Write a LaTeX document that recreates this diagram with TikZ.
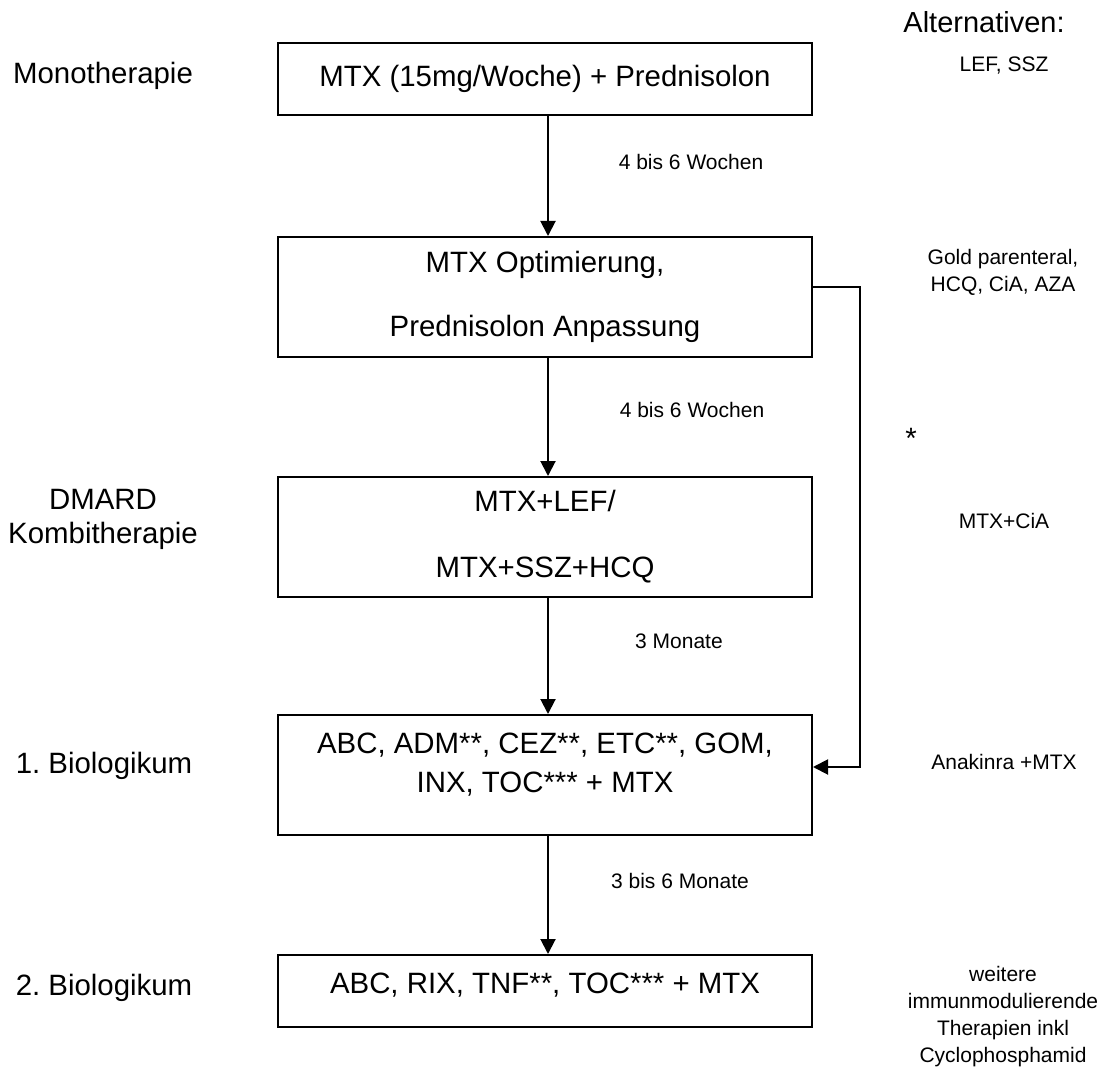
\documentclass[tikz,border=0pt]{standalone}
\usepackage{fontspec}
\setmainfont{Liberation Sans}
\frenchspacing
\usetikzlibrary{arrows.meta}
\tikzset{
	stage/.style={draw, line width=1pt, minimum width=267pt, inner sep=0pt, align=center, font=\fontsize{14.7}{17}\selectfont},
	side/.style={align=center, font=\fontsize{14.7}{17}\selectfont},
	note/.style={align=center, font=\fontsize{10.5}{13.5}\selectfont},
	flow/.style={line width=1pt, -{Triangle[length=7.5pt,width=7.5pt]}},
}
\begin{document}
\begin{tikzpicture}[x=0.5pt,y=-0.5pt]
		\useasboundingbox (0,0) rectangle (1117,1074);
		% therapy steps
		\node[stage, minimum height=36pt] (mono) at(545,79) {MTX (15mg/Woche) + Prednisolon};
		\node[stage, minimum height=60pt, font=\fontsize{14.7}{32}\selectfont] (opt) at(545,297) {MTX Optimierung,\\Prednisolon Anpassung};
		\node[stage, minimum height=60pt, font=\fontsize{14.7}{33}\selectfont] (dmard) at(545,537) {MTX+LEF/\\MTX+SSZ+HCQ};
		\node[stage, minimum height=60pt, text depth=12pt, font=\fontsize{14.7}{19.5}\selectfont] (bio1) at(545,775) {ABC, ADM**, CEZ**, ETC**, GOM,\\INX, TOC*** + MTX};
		\node[stage, minimum height=36pt, text depth=8pt] (bio2) at(545,991) {ABC, RIX, TNF**, TOC*** + MTX};
		% phases
		\node[side] (lmono) at(103,76) {Monotherapie};
		\node[side] (ldmard) at(103,519) {DMARD\\Kombitherapie};
		\node[side] (lbio1) at(104,766) {1. Biologikum};
		\node[side] (lbio2) at(104,988) {2. Biologikum};
		% alternatives
		\node[side, font=\fontsize{14.5}{17}\selectfont] (alt) at(984,22) {Alternativen:};
		\node[note] (amono) at(1004,66) {LEF, SSZ};
		\node[note] (aopt) at(1003,272) {Gold parenteral,\\HCQ, CiA, AZA};
		\node[side] (star) at(911,438) {*};
		\node[note] (admard) at(1004,521) {MTX+CiA};
		\node[note] (abio1) at(1004,762) {Anakinra +MTX};
		\node[note] (abio2) at(1003,1017) {weitere\\immunmodulierende\\Therapien inkl\\Cyclophosphamid};
		% durations
		\node[note] (t1) at(691,162) {4 bis 6 Wochen};
		\node[note] (t2) at(692,410) {4 bis 6 Wochen};
		\node[note] (t3) at(679,641) {3 Monate};
		\node[note] (t4) at(680,881) {3 bis 6 Monate};
		\draw[flow] ([xshift=1.5pt]mono.south) -- ([xshift=1.5pt]opt.north);
		\draw[flow] ([xshift=1.5pt]opt.south) -- ([xshift=1.5pt]dmard.north);
		\draw[flow] ([xshift=1.5pt]dmard.south) -- ([xshift=1.5pt]bio1.north);
		\draw[flow] ([xshift=1.5pt]bio1.south) -- ([xshift=1.5pt]bio2.north);
		% shortcut
		\coordinate (s1) at(860,287);
		\coordinate (s2) at(860,767);
		\draw[flow] (opt.east |- s1) -- (s1) -- (s2) -- (bio1.east |- s2);
	\end{tikzpicture}
\end{document}
